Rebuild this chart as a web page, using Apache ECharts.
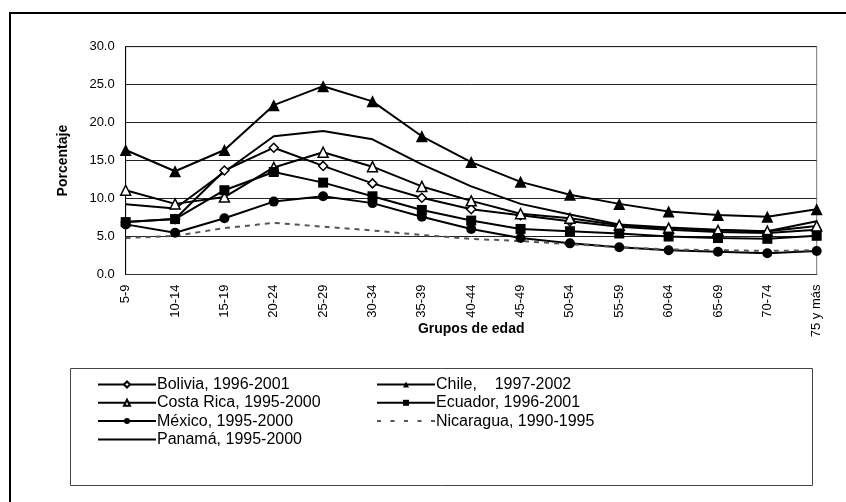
<!DOCTYPE html>
<html>
<head>
<meta charset="utf-8">
<script src="https://cdn.jsdelivr.net/npm/echarts@6/dist/echarts.min.js"></script>
<style>
html,body{margin:0;padding:0;background:#fff;}
#chart{width:846px;height:502px;}
</style>
</head>
<body>
<div id="chart"></div>
<script>
var categories = ['5-9','10-14','15-19','20-24','25-29','30-34','35-39','40-44','45-49','50-54','55-59','60-64','65-69','70-74','75 y más'];
var yTicks = [0, 5, 10, 15, 20, 25, 30];

var bolivia   = [6.9, 7.3, 13.7, 16.7, 14.3, 12.0, 10.1, 8.6, 7.8, 7.0, 6.3, 5.9, 5.6, 5.45, 5.9];
var chile     = [16.4, 13.6, 16.4, 22.3, 24.8, 22.8, 18.2, 14.8, 12.2, 10.5, 9.3, 8.3, 7.85, 7.6, 8.6];
var costaRica = [11.1, 9.3, 10.2, 14.1, 16.1, 14.2, 11.6, 9.7, 8.0, 7.4, 6.5, 6.1, 5.8, 5.7, 6.4];
var ecuador   = [6.9, 7.3, 11.1, 13.5, 12.1, 10.3, 8.5, 7.1, 6.0, 5.7, 5.4, 5.0, 4.8, 4.7, 5.1];
var mexico    = [6.6, 5.5, 7.4, 9.6, 10.3, 9.4, 7.6, 6.0, 4.8, 4.1, 3.6, 3.2, 3.0, 2.8, 3.1];
var nicaragua = [4.8, 5.1, 6.1, 6.8, 6.3, 5.8, 5.2, 4.7, 4.4, 4.0, 3.6, 3.3, 3.2, 3.1, 3.2];
var panama    = [9.25, 8.7, 13.5, 18.2, 18.9, 17.8, 14.5, 11.6, 9.3, 7.9, 6.6, 6.2, 5.9, 5.7, 7.0];

var names = {
  bolivia: 'Bolivia, 1996-2001',
  chile: 'Chile,    1997-2002',
  costaRica: 'Costa Rica, 1995-2000',
  ecuador: 'Ecuador, 1996-2001',
  mexico: 'México, 1995-2000',
  nicaragua: 'Nicaragua, 1990-1995',
  panama: 'Panamá, 1995-2000'
};

var FONT = '"Liberation Sans", Arial, sans-serif';
var chart = echarts.init(document.getElementById('chart'), null, {renderer: 'canvas'});

function lineSeries(name, data, symbol, size, fill, extra) {
  var s = {
    name: name,
    type: 'line',
    data: data,
    symbol: symbol,
    symbolSize: size,
    showSymbol: symbol !== 'none',
    animation: false,
    z: 3,
    lineStyle: {color: '#000', width: 2},
    itemStyle: {color: fill, borderColor: '#000', borderWidth: fill === '#fff' ? 1.5 : 0}
  };
  if (extra) { for (var k in extra) s[k] = extra[k]; }
  return s;
}

var solidIcon = 'path://M0,0H58V2H0Z';
var dashIcon = 'path://M0,0h4v2h-4zM13.5,0h4v2h-4zM27,0h4v2h-4zM40.5,0h4v2h-4zM54,0h4v2h-4z';

var legendCommon = {
  orient: 'vertical',
  itemWidth: 58,
  itemHeight: 7.5,
  itemGap: 2.3,
  padding: 0,
  textStyle: {fontFamily: FONT, fontSize: 16, color: '#000', lineHeight: 16, padding: [0, 0, 0, -4]},
  inactiveColor: '#000'
};

var option = {
  backgroundColor: '#fff',
  animation: false,
  textStyle: {fontFamily: FONT},
  graphic: [
    {type: 'rect', shape: {x: 10, y: 13, width: 850, height: 500}, style: {fill: 'none', stroke: '#000', lineWidth: 2}, z: 0, silent: true},
    {type: 'rect', shape: {x: 70.5, y: 368.5, width: 742, height: 117}, style: {fill: 'none', stroke: '#444', lineWidth: 1}, z: 0, silent: true}
  ],
  grid: {
    left: 125.7, right: 29.3, top: 46.7, bottom: 227.5,
    show: true, borderColor: '#777', borderWidth: 1, backgroundColor: 'transparent'
  },
  legend: [
    Object.assign({}, legendCommon, {left: 97, top: 376.5, data: [
      names.bolivia, names.costaRica, names.mexico, {name: names.panama, icon: solidIcon}
    ]}),
    Object.assign({}, legendCommon, {left: 376, top: 376.5, data: [
      names.chile, names.ecuador, {name: names.nicaragua, icon: dashIcon}
    ]})
  ],
  xAxis: {
    type: 'category',
    data: categories,
    boundaryGap: false,
    axisLine: {lineStyle: {color: '#333', width: 1}},
    axisTick: {show: false},
    axisLabel: {rotate: 90, interval: 0, fontSize: 13, color: '#000', margin: 10, fontFamily: FONT},
    name: 'Grupos de edad',
    nameLocation: 'middle',
    nameGap: 48,
    nameMoveOverlap: false,
    nameTextStyle: {fontSize: 14, fontWeight: 'bold', color: '#000', fontFamily: FONT, verticalAlign: 'top'},
    splitLine: {show: false}
  },
  yAxis: {
    type: 'value',
    min: yTicks[0],
    max: yTicks[yTicks.length - 1],
    interval: 5,
    axisLine: {show: true, lineStyle: {color: '#000', width: 1}},
    axisTick: {show: false},
    axisLabel: {fontSize: 13, color: '#000', margin: 11, fontFamily: FONT, formatter: function (v) { return v.toFixed(1); }},
    splitLine: {show: true, lineStyle: {color: '#222', width: 1}},
    name: 'Porcentaje',
    nameLocation: 'middle',
    nameRotate: 90,
    nameGap: 56,
    nameMoveOverlap: false,
    nameTextStyle: {fontSize: 14, fontWeight: 'bold', color: '#000', fontFamily: FONT}
  },
  series: [
    lineSeries(names.bolivia, bolivia, 'diamond', 9, '#fff'),
    lineSeries(names.chile, chile, 'triangle', 12, '#000'),
    lineSeries(names.costaRica, costaRica, 'triangle', 10, '#fff'),
    lineSeries(names.ecuador, ecuador, 'rect', 10, '#000'),
    lineSeries(names.mexico, mexico, 'circle', 10, '#000'),
    lineSeries(names.nicaragua, nicaragua, 'none', 0, '#555', {lineStyle: {color: '#555', width: 2, type: [5, 5]}}),
    lineSeries(names.panama, panama, 'none', 0, '#000')
  ]
};
chart.setOption(option);
</script>
</body>
</html>
